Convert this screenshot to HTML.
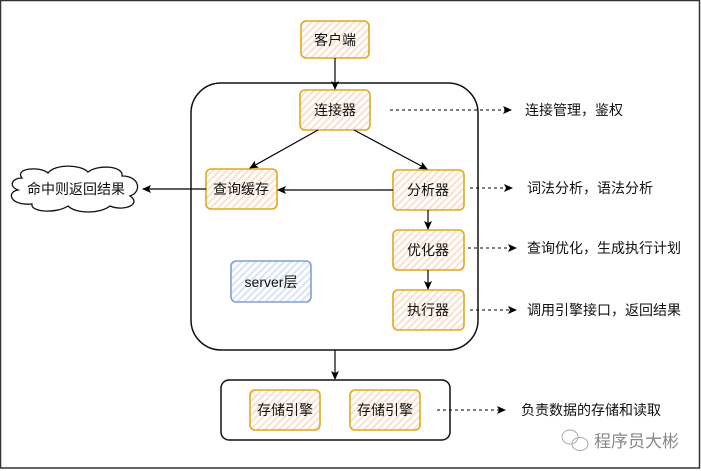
<!DOCTYPE html>
<html><head><meta charset="utf-8"><style>
html,body{margin:0;padding:0;background:#fff;}
svg{display:block;}
text{font-family:"Liberation Sans","Noto Sans CJK SC",sans-serif;font-size:14px;fill:#111;}
</style></head><body>
<svg width="701" height="471" viewBox="0 0 701 471" xmlns="http://www.w3.org/2000/svg">
<defs>
<pattern id="h" width="5" height="5" patternUnits="userSpaceOnUse" patternTransform="rotate(45)">
<rect width="5" height="5" fill="#fff"/><rect width="2" height="5" fill="#fbe0cc"/></pattern>
<pattern id="b" width="5" height="5" patternUnits="userSpaceOnUse" patternTransform="rotate(45)">
<rect width="5" height="5" fill="#fff"/><rect width="2" height="5" fill="#d8e4f6"/></pattern>
<marker id="a" markerWidth="10" markerHeight="10" refX="8" refY="4" orient="auto" markerUnits="userSpaceOnUse">
<path d="M0,0 L9,4 L0,8 L2,4 Z" fill="#000"/></marker>
</defs>
<rect x="0.5" y="0.5" width="699" height="467.5" fill="#fff" stroke="#333" stroke-width="1.5"/>
<rect x="191" y="83" width="287" height="267" rx="30" fill="none" stroke="#111" stroke-width="1.5"/>
<rect x="221" y="380" width="229" height="60" rx="8" fill="none" stroke="#111" stroke-width="1.5"/>
<g fill="url(#h)" stroke="#e0a91a" stroke-width="1.6">
<rect x="301" y="21" width="68" height="37" rx="5"/>
<rect x="300" y="90" width="70" height="40" rx="5"/>
<rect x="206" y="169" width="71" height="40" rx="5"/>
<rect x="393" y="170" width="71" height="40" rx="5"/>
<rect x="393" y="230" width="71" height="40" rx="5"/>
<rect x="393" y="290" width="71" height="40" rx="5"/>
<rect x="250" y="390" width="70" height="40" rx="5"/>
<rect x="350" y="390" width="70" height="40" rx="5"/>
</g>
<rect x="231" y="261" width="80" height="41" rx="5" fill="url(#b)" stroke="#7ea0d6" stroke-width="1.6"/>
<path d="M22,178 C14,168 40,166 48,173 C55,164 80,164 88,172 C98,164 124,166 122,176 C140,176 142,192 130,196 C142,204 124,212 110,206 C100,214 76,214 68,206 C56,214 30,212 32,204 C10,206 6,192 18,190 C8,186 12,178 22,178 Z" fill="#fff" stroke="#111" stroke-width="1.3"/>
<g stroke="#000" stroke-width="1.2" fill="none" marker-end="url(#a)">
<line x1="335" y1="58" x2="335" y2="89"/>
<line x1="318" y1="130" x2="250" y2="168"/>
<line x1="354" y1="130" x2="427" y2="169"/>
<line x1="393" y1="190" x2="278" y2="190"/>
<line x1="206" y1="189" x2="143" y2="189"/>
<line x1="428" y1="210" x2="428" y2="229"/>
<line x1="428" y1="270" x2="428" y2="289"/>
<line x1="335" y1="350" x2="335" y2="379"/>
</g>
<g stroke="#000" stroke-width="1.1" fill="none" stroke-dasharray="3,3" marker-end="url(#a)">
<line x1="390" y1="110" x2="511" y2="110"/>
<line x1="470" y1="188" x2="512" y2="188"/>
<line x1="468" y1="248" x2="516" y2="248"/>
<line x1="470" y1="310" x2="516" y2="310"/>
<line x1="437" y1="410" x2="505" y2="410"/>
</g>
<g text-anchor="middle">
<text x="335" y="45">客户端</text>
<text x="335" y="115">连接器</text>
<text x="241" y="194">查询缓存</text>
<text x="428" y="195">分析器</text>
<text x="428" y="255">优化器</text>
<text x="428" y="315">执行器</text>
<text x="271" y="287">server层</text>
<text x="285" y="415">存储引擎</text>
<text x="385" y="415">存储引擎</text>
<text x="76" y="194">命中则返回结果</text>
</g>
<text x="525" y="115">连接管理，鉴权</text>
<text x="527" y="193">词法分析，语法分析</text>
<text x="527" y="253">查询优化，生成执行计划</text>
<text x="527" y="315">调用引擎接口，返回结果</text>
<text x="521" y="415">负责数据的存储和读取</text>
<g stroke="#aaa" fill="none" stroke-width="1">
<ellipse cx="570" cy="437" rx="8" ry="7"/>
<ellipse cx="580" cy="444" rx="8" ry="6.5"/>
</g>
<text x="594" y="447" style="font-size:17px;fill:#888">程序员大彬</text>
</svg>
</body></html>
